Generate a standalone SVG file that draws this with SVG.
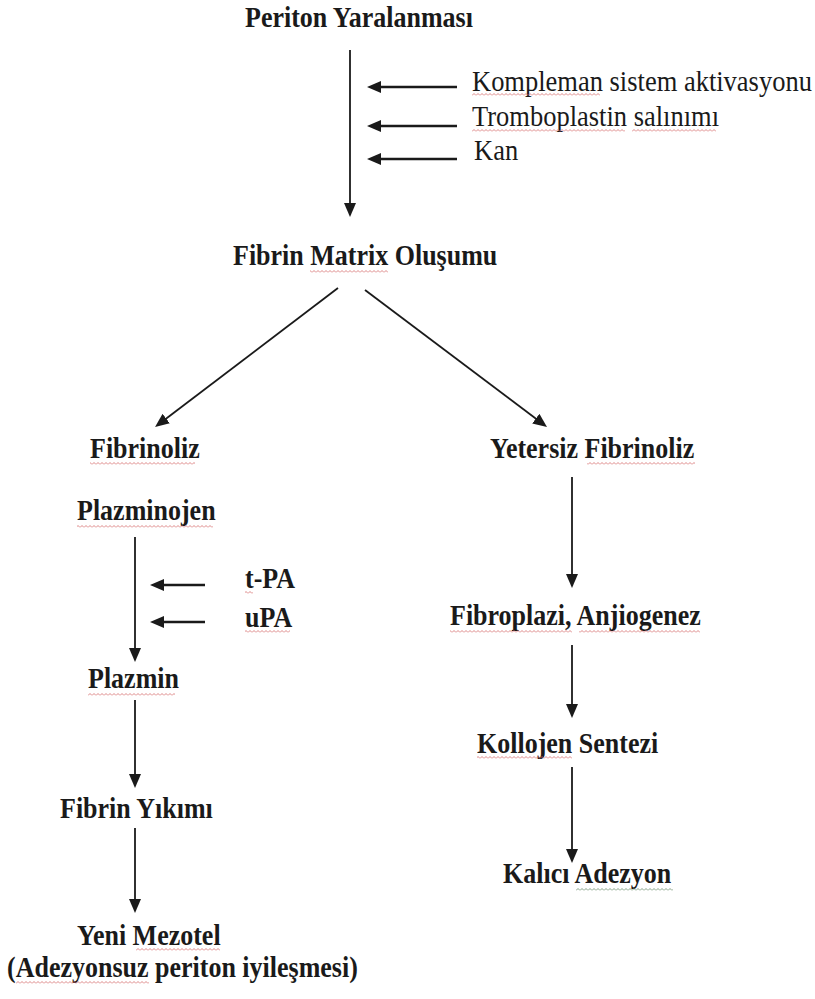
<svg xmlns="http://www.w3.org/2000/svg" width="815" height="999" viewBox="0 0 815 999">
<style>
.b{font-family:"Liberation Serif","Times New Roman",serif;font-weight:bold;font-size:26px;fill:#1a1a1a}
.r{font-family:"Liberation Serif","Times New Roman",serif;font-size:26.5px;fill:#1a1a1a}
.ln{stroke:#1a1a1a;stroke-width:1.8;fill:none;marker-end:url(#ah)}
.ls{stroke:#1a1a1a;stroke-width:2.6;fill:none;marker-end:url(#ah)}
.sq{fill:url(#sqp)}
.sg{fill:url(#sqg)}
</style>
<defs>
<marker id="ah" viewBox="0 0 14 12" markerWidth="14" markerHeight="12" refX="4" refY="6" orient="auto" markerUnits="userSpaceOnUse">
<path d="M0,0 L14,6 L0,12 z" fill="#1a1a1a"/>
</marker>
<pattern id="sqp" width="4" height="3" patternUnits="userSpaceOnUse">
<polyline points="0,2.5 2,0.5 4,2.5" fill="none" stroke="#d46a6a" stroke-width="0.8"/>
</pattern>
<pattern id="sqg" width="4" height="3" patternUnits="userSpaceOnUse">
<polyline points="0,2.5 2,0.5 4,2.5" fill="none" stroke="#6a8a6a" stroke-width="0.8"/>
</pattern>
</defs>
<rect width="815" height="999" fill="#ffffff"/>

<g id="connectors">
<line class="ln" x1="350" y1="50" x2="350" y2="207"/>
<line class="ls" x1="457" y1="87" x2="377" y2="87"/>
<line class="ls" x1="457" y1="126" x2="377" y2="126"/>
<line class="ls" x1="457" y1="159" x2="377" y2="159"/>
<line class="ln" x1="338" y1="288" x2="163" y2="421"/>
<line class="ln" x1="365" y1="290" x2="539" y2="421"/>
<line class="ln" x1="135" y1="537" x2="135" y2="652"/>
<line class="ls" x1="205" y1="585" x2="160" y2="585"/>
<line class="ls" x1="205" y1="622" x2="160" y2="622"/>
<line class="ln" x1="135" y1="700" x2="135" y2="778"/>
<line class="ln" x1="135" y1="828" x2="135" y2="903"/>
<line class="ln" x1="572" y1="477" x2="572" y2="578"/>
<line class="ln" x1="572" y1="645" x2="572" y2="708"/>
<line class="ln" x1="572" y1="767" x2="572" y2="853"/>
</g>

<g id="periton"><text class="b" transform="translate(245,27) scale(1,1.12)">Periton Yaralanması</text></g>
<g id="kompleman"><text class="r" transform="translate(472,91) scale(1,1.1)">Kompleman sistem aktivasyonu</text><rect class="sq" x="472" y="93" width="128" height="3"/></g>
<g id="tromboplastin"><text class="r" transform="translate(472,126) scale(1,1.1)">Tromboplastin salınımı</text><rect class="sq" x="472" y="129" width="153" height="3"/><rect class="sq" x="632" y="129" width="84" height="3"/></g>
<g id="kan"><text class="r" transform="translate(474,160) scale(1,1.1)">Kan</text></g>
<g id="fibrin-matrix"><text class="b" transform="translate(233,265) scale(1,1.12)">Fibrin Matrix Oluşumu</text><rect class="sq" x="310" y="270" width="78" height="3"/></g>
<g id="fibrinoliz"><text class="b" transform="translate(90,458) scale(1,1.12)">Fibrinoliz</text><rect class="sq" x="90" y="462" width="105" height="3"/></g>
<g id="yetersiz"><text class="b" transform="translate(490,458) scale(1,1.12)">Yetersiz Fibrinoliz</text><rect class="sq" x="587" y="462" width="108" height="3"/></g>
<g id="plazminojen"><text class="b" transform="translate(77,520) scale(1,1.12)">Plazminojen</text><rect class="sq" x="77" y="525" width="136" height="3"/></g>
<g id="tpa"><text class="b" transform="translate(245,588) scale(1,1.12)">t-PA</text><rect class="sq" x="245" y="591" width="8" height="3"/></g>
<g id="upa"><text class="b" transform="translate(245,627) scale(1,1.12)">uPA</text><rect class="sq" x="245" y="630" width="45" height="3"/></g>
<g id="plazmin"><text class="b" transform="translate(88,688) scale(1,1.12)">Plazmin</text><rect class="sq" x="88" y="693" width="87" height="3"/></g>
<g id="fibrin-yikimi"><text class="b" transform="translate(60,818) scale(1,1.12)">Fibrin Yıkımı</text></g>
<g id="yeni-mezotel"><text class="b" transform="translate(77,945) scale(1,1.12)">Yeni Mezotel</text><rect class="sq" x="136" y="948" width="84" height="3"/>
<text class="b" transform="translate(7,977) scale(1,1.12)">(Adezyonsuz periton iyileşmesi)</text><rect class="sq" x="16" y="981" width="133" height="3"/></g>
<g id="fibroplazi"><text class="b" transform="translate(450,625) scale(1,1.12)">Fibroplazi, Anjiogenez</text><rect class="sq" x="450" y="630" width="122" height="3"/><rect class="sq" x="579" y="630" width="121" height="3"/></g>
<g id="kollojen"><text class="b" transform="translate(477,753) scale(1,1.12)">Kollojen Sentezi</text><rect class="sq" x="477" y="756" width="95" height="3"/></g>
<g id="kalici"><text class="b" transform="translate(503,883) scale(1,1.12)">Kalıcı Adezyon</text><rect class="sg" x="576" y="888" width="97" height="3"/></g>
</svg>
